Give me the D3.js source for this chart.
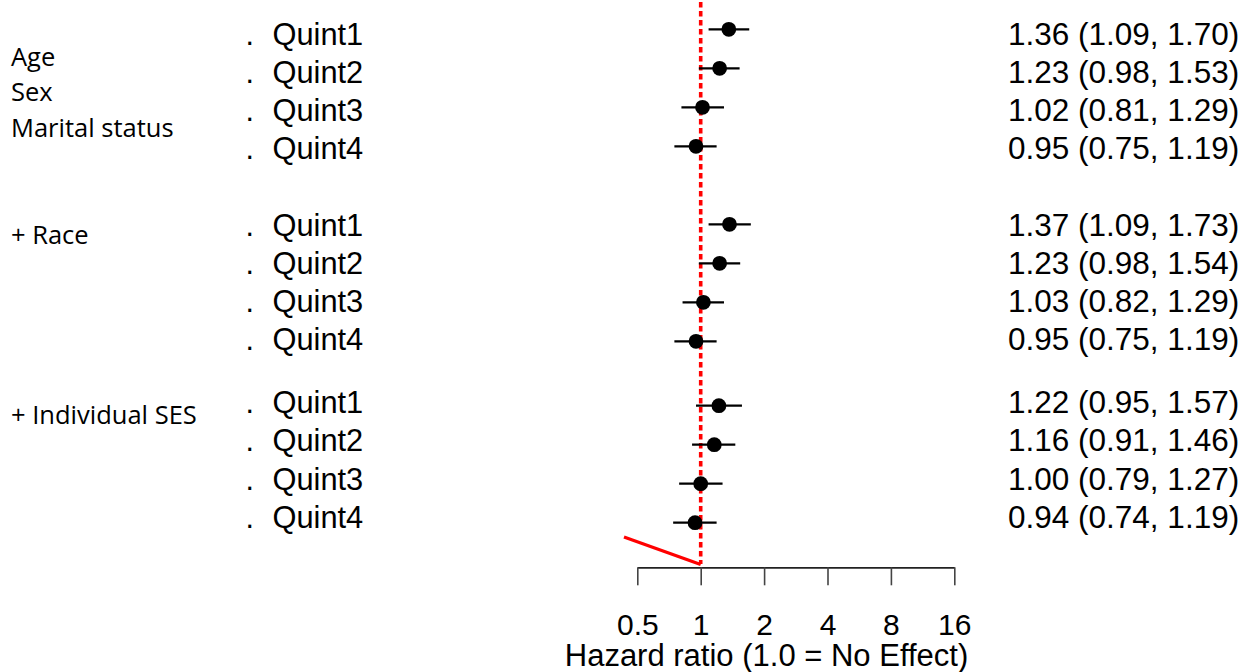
<!DOCTYPE html>
<html>
<head>
<meta charset="utf-8">
<script src="https://cdn.jsdelivr.net/npm/d3@7"></script>
<style>
  html, body { margin: 0; padding: 0; background: #fff; }
  svg { display: block; }
</style>
</head>
<body>
<svg id="chart" width="1254" height="672"></svg>
<script>
// ---- data ----
const rowLabels = ["Quint1","Quint2","Quint3","Quint4","Quint1","Quint2","Quint3","Quint4","Quint1","Quint2","Quint3","Quint4"];
const rowIndex  = [0, 1, 2, 3, 5, 6, 7, 8, 9.65, 10.65, 11.65, 12.65];
const hr        = [1.36, 1.23, 1.02, 0.95, 1.37, 1.23, 1.03, 0.95, 1.22, 1.16, 1.00, 0.94];
const lower     = [1.09, 0.98, 0.81, 0.75, 1.09, 0.98, 0.82, 0.75, 0.95, 0.91, 0.79, 0.74];
const upper     = [1.70, 1.53, 1.29, 1.19, 1.73, 1.54, 1.29, 1.19, 1.57, 1.46, 1.27, 1.19];
const groupLines = [["Age", "Sex", "Marital status"], ["+ Race"], ["+ Individual SES"]];
const tickValues = [0.5, 1, 2, 4, 8, 16];
const axisTitle = "Hazard ratio (1.0 = No Effect)";

// ---- drawing ----
const svg = d3.select("#chart");
const x = d3.scaleLog().base(2).domain([0.5, 16]).range([637.3, 954.3]);
const yMark = d3.scaleLinear().domain([0, 1]).range([29.3, 68.3]);
const yText = d3.scaleLinear().domain([0, 1]).range([44.5, 82.7]);

const fmt = d3.format(".2f");
const rows = hr.map((v, i) => ({ label: rowLabels[i], r: rowIndex[i], hr: v, lo: lower[i], hi: upper[i] }));

// Reference line at 1 (dotted red)
svg.append("line")
  .attr("x1", x(1)).attr("x2", x(1))
  .attr("y1", 2).attr("y2", 564)
  .attr("stroke", "#ff0000").attr("stroke-width", 3.6)
  .attr("stroke-dasharray", "5.5,3.5");

// red segment near axis
svg.append("line")
  .attr("x1", 624).attr("y1", 537)
  .attr("x2", x(1)).attr("y2", 564.5)
  .attr("stroke", "#ff0000").attr("stroke-width", 3.2);

// CIs
svg.append("g").selectAll("line").data(rows).join("line")
  .attr("x1", d => x(d.lo)).attr("x2", d => x(d.hi))
  .attr("y1", d => yMark(d.r)).attr("y2", d => yMark(d.r))
  .attr("stroke", "#000").attr("stroke-width", 2.2);

// markers
svg.append("g").selectAll("circle").data(rows).join("circle")
  .attr("cx", d => x(d.hr)).attr("cy", d => yMark(d.r))
  .attr("r", 7.4).attr("fill", "#000");

// row labels
const lab = svg.append("g").attr("font-family", "'Liberation Sans', Arial, sans-serif")
  .attr("fill", "#000");
lab.selectAll("text.dot").data(rows).join("text").attr("class", "dot")
  .attr("font-size", 30.5)
  .attr("x", 245.5).attr("y", d => yText(d.r)).text(".");
lab.selectAll("text.nm").data(rows).join("text").attr("class", "nm")
  .attr("font-size", 30.8)
  .attr("x", 272.5).attr("y", d => yText(d.r)).text(d => d.label);

// estimates text
lab.selectAll("text.est").data(rows).join("text").attr("class", "est")
  .attr("font-size", 31.5)
  .attr("x", 1008).attr("y", d => yText(d.r))
  .text(d => `${fmt(d.hr)} (${fmt(d.lo)}, ${fmt(d.hi)})`);

// group labels
const gl = svg.append("g").attr("font-family", "'Open Sans', 'Noto Sans', sans-serif")
  .attr("font-size", 25.5).attr("fill", "#000");
const groupY = [65.7, 244.3, 424.3];
groupLines.forEach((lines, gi) => {
  gl.selectAll(null).data(lines).join("text")
    .attr("x", 11)
    .attr("y", (d, j) => groupY[gi] + j * 35.5)
    .text(d => d);
});

// axis
const axisG = svg.append("g").attr("transform", "translate(0,567.3)");
axisG.call(d3.axisBottom(x).tickValues(tickValues).tickSize(18).tickSizeOuter(0).tickFormat(d => String(d)));
axisG.select(".domain").attr("stroke", "#222").attr("stroke-width", 1.8);
axisG.selectAll(".tick line").attr("stroke", "#444").attr("stroke-width", 1.6);
axisG.selectAll(".tick text")
  .attr("font-family", "'Liberation Sans', Arial, sans-serif")
  .attr("font-size", 30).attr("fill", "#000")
  .attr("dy", null).attr("y", 68);

svg.append("text")
  .attr("x", x(4) - 61).attr("y", 665.5)
  .attr("text-anchor", "middle")
  .attr("font-family", "'Liberation Sans', Arial, sans-serif")
  .attr("font-size", 31).attr("fill", "#000")
  .text(axisTitle);
</script>
</body>
</html>
